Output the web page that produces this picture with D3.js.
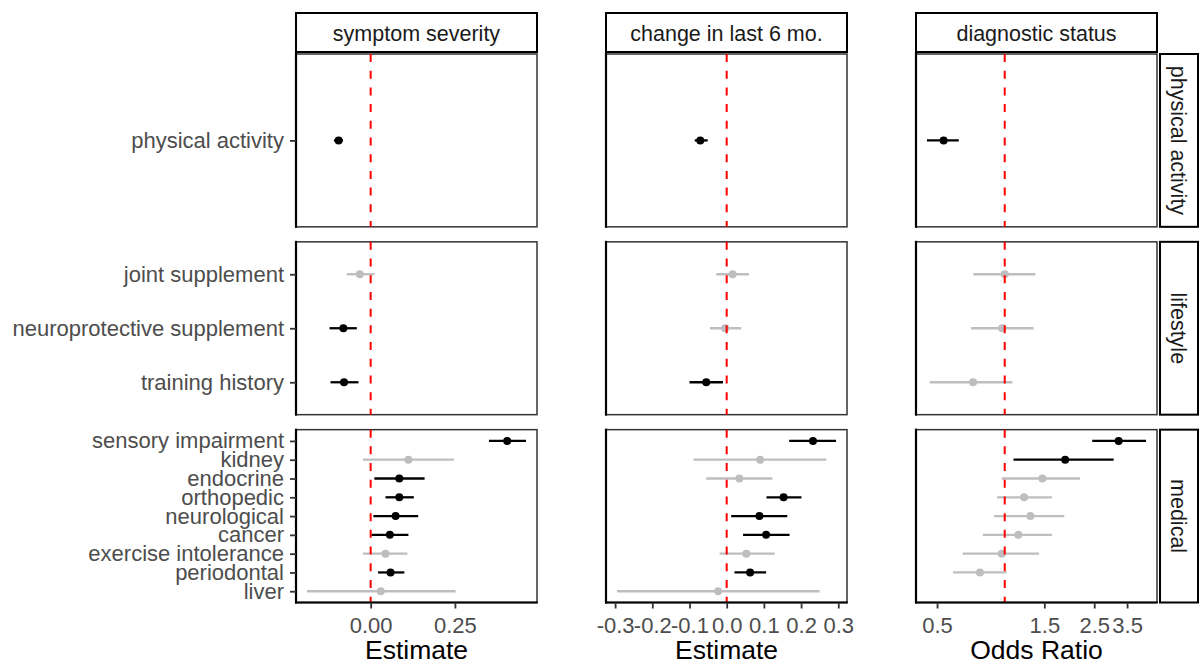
<!DOCTYPE html>
<style>
body {
  margin: 0;
  font-family: 'Liberation Sans', Arial, sans-serif;
  background: #fff;
}
.tick line { stroke: #333; stroke-width: 1.8; }
.tick text { fill: #4d4d4d; font-size: 22px; }
</style>
<svg width="1204" height="666"></svg>
<script src="https://d3js.org/d3.v7.min.js"></script>
<script>
// facets
var outcomes = ["symptom severity", "change in last 6 mo.", "diagnostic status"];
var groups = ["physical activity", "lifestyle", "medical"];
var nullValues = [0, 0, 1];
var axisTitles = ["Estimate", "Estimate", "Odds Ratio"];

// terms in each group, top to bottom
var activityTerms = ["physical activity"];
var lifestyleTerms = ["joint supplement", "neuroprotective supplement", "training history"];
var medicalTerms = ["sensory impairment", "kidney", "endocrine", "orthopedic", "neurological",
                    "cancer", "exercise intolerance", "periodontal", "liver"];
var groupTerms = [activityTerms, lifestyleTerms, medicalTerms];
var allTerms = activityTerms.concat(lifestyleTerms, medicalTerms);

// estimates and 95% intervals, same order as allTerms
var severityEst = [-0.095, -0.032, -0.081, -0.079, 0.405, 0.112, 0.085, 0.085, 0.074, 0.057, 0.044, 0.059, 0.030];
var severityLo  = [-0.109, -0.071, -0.122, -0.119, 0.351, -0.023, 0.011, 0.044, 0.008, 0.002, -0.023, 0.022, -0.189];
var severityHi  = [-0.082, 0.011, -0.041, -0.036, 0.461, 0.247, 0.160, 0.128, 0.141, 0.112, 0.109, 0.100, 0.252];

var changeEst = [-0.071, 0.016, -0.004, -0.055, 0.232, 0.090, 0.034, 0.153, 0.088, 0.106, 0.053, 0.063, -0.023];
var changeLo  = [-0.086, -0.028, -0.045, -0.100, 0.168, -0.089, -0.055, 0.107, 0.012, 0.044, -0.019, 0.021, -0.295];
var changeHi  = [-0.051, 0.060, 0.039, -0.010, 0.294, 0.268, 0.123, 0.201, 0.163, 0.169, 0.129, 0.106, 0.250];

var diagnosticOR = [0.535, 1.00, 0.974, 0.723, 3.21, 1.857, 1.47, 1.22, 1.30, 1.15, 0.97, 0.776, null];
var diagnosticLo = [0.451, 0.726, 0.709, 0.464, 2.45, 1.094, 0.97, 0.925, 0.896, 0.80, 0.65, 0.59, null];
var diagnosticHi = [0.625, 1.369, 1.343, 1.082, 4.25, 3.05, 2.16, 1.62, 1.84, 1.62, 1.42, 1.02, null];

// x tick values / labels
var severityTicks = [0, 0.25];
var severityTickLabels = ["0.00", "0.25"];
var changeTicks = [-0.3, -0.2, -0.1, 0, 0.1, 0.2, 0.3];
var changeTickLabels = ["-0.3", "-0.2", "-0.1", "0.0", "0.1", "0.2", "0.3"];
var diagnosticTicks = [0.5, 1.5, 2.5, 3.5];
var diagnosticTickLabels = ["0.5", "1.5", "2.5", "3.5"];

var estimates = [severityEst, changeEst, diagnosticOR];
var lows = [severityLo, changeLo, diagnosticLo];
var highs = [severityHi, changeHi, diagnosticHi];
var tickValues = [severityTicks, changeTicks, diagnosticTicks];
var tickLabels = [severityTickLabels, changeTickLabels, diagnosticTickLabels];

// layout
var svg = d3.select("svg");
var panelW = 241, colX = [296, 606, 916];
var plotTop = 54, plotBottom = 602.5, rowGap = 15;
var panelH = (plotBottom - plotTop - 2 * rowGap) / 3;
var rowY = [0, 1, 2].map(function(i) { return plotTop + i * (panelH + rowGap); });

// x scales, with ggplot-style 5% expansion
var xScales = outcomes.map(function(o, c) {
  var isLog = c === 2;
  var f = isLog ? Math.log : function(v) { return v; };
  var vals = lows[c].concat(highs[c]).filter(function(v) { return v !== null; }).map(f);
  var lo = d3.min(vals), hi = d3.max(vals), pad = (hi - lo) * 0.05;
  if (isLog) {
    return d3.scaleLog().domain([Math.exp(lo - pad), Math.exp(hi + pad)]).range([0, panelW]);
  }
  return d3.scaleLinear().domain([lo - pad, hi + pad]).range([0, panelW]);
});

outcomes.forEach(function(outcome, c) {
  var x = xScales[c];

  // top strip
  var strip = svg.append("g").attr("transform", "translate(" + colX[c] + ",13)");
  strip.append("rect")
      .attr("width", panelW).attr("height", 39)
      .attr("fill", "#fff").attr("stroke", "#000").attr("stroke-width", 2);
  strip.append("text")
      .attr("x", panelW / 2).attr("y", 20)
      .attr("dy", "0.36em")
      .attr("text-anchor", "middle")
      .attr("font-size", 21.5)
      .attr("fill", "#1a1a1a")
      .text(outcome);

  groups.forEach(function(group, r) {
    var terms = groupTerms[r];
    var y = d3.scalePoint().domain(terms).range([0, panelH]).padding(0.6);
    var g = svg.append("g").attr("transform", "translate(" + colX[c] + "," + rowY[r] + ")");

    g.append("rect")
        .attr("width", panelW).attr("height", panelH)
        .attr("fill", "#fff").attr("stroke", "#333").attr("stroke-width", 1.5);

    var rows = terms.map(function(t) {
      var i = allTerms.indexOf(t);
      return { term: t, est: estimates[c][i], lo: lows[c][i], hi: highs[c][i] };
    }).filter(function(d) { return d.est !== null; });

    var colour = function(d) {
      return (d.lo > nullValues[c] || d.hi < nullValues[c]) ? "#000" : "#bebebe";
    };

    g.selectAll(".bar")
      .data(rows)
      .enter().append("line")
        .attr("x1", function(d) { return x(d.lo); })
        .attr("x2", function(d) { return x(d.hi); })
        .attr("y1", function(d) { return y(d.term); })
        .attr("y2", function(d) { return y(d.term); })
        .attr("stroke", colour)
        .attr("stroke-width", 2.3);

    g.selectAll(".pt")
      .data(rows)
      .enter().append("circle")
        .attr("cx", function(d) { return x(d.est); })
        .attr("cy", function(d) { return y(d.term); })
        .attr("r", 4)
        .attr("fill", colour);

    // reference line
    g.append("line")
        .attr("x1", x(nullValues[c])).attr("x2", x(nullValues[c]))
        .attr("y1", 0).attr("y2", panelH)
        .attr("stroke", "#ff0000")
        .attr("stroke-width", 2)
        .attr("stroke-dasharray", "8,8.7");

    // left axis line on every panel
    g.append("line")
        .attr("x1", 0).attr("x2", 0).attr("y1", -1).attr("y2", panelH + 1)
        .attr("stroke", "#000").attr("stroke-width", 2.2);

    if (c === 0) {
      g.append("g")
          .call(d3.axisLeft(y).tickSize(6).tickPadding(6))
          .call(function(a) { a.select(".domain").remove(); })
          .selectAll("text").attr("font-family", "'Liberation Sans', Arial, sans-serif");
    }

    if (r === 2) {
      g.append("line")
          .attr("x1", -1).attr("x2", panelW + 0.75).attr("y1", panelH).attr("y2", panelH)
          .attr("stroke", "#000").attr("stroke-width", 2.2);
      g.append("g")
          .attr("transform", "translate(0," + panelH + ")")
          .call(d3.axisBottom(x).tickValues(tickValues[c]).tickSize(6).tickPadding(9)
            .tickFormat(function(d, i) { return tickLabels[c][i]; }))
          .call(function(a) { a.select(".domain").remove(); })
          .selectAll("text").attr("font-family", "'Liberation Sans', Arial, sans-serif");
    }

    // right strip
    if (c === 2) {
      var rs = svg.append("g").attr("transform", "translate(1160," + rowY[r] + ")");
      rs.append("rect")
          .attr("width", 38).attr("height", panelH)
          .attr("fill", "#fff").attr("stroke", "#000").attr("stroke-width", 2);
      rs.append("text")
          .attr("transform", "translate(19," + (panelH / 2) + ") rotate(90)")
          .attr("dy", "0.36em")
          .attr("text-anchor", "middle")
          .attr("font-size", 21.5)
          .attr("fill", "#1a1a1a")
          .text(group);
    }
  });

  // axis title
  svg.append("text")
      .attr("x", colX[c] + panelW / 2)
      .attr("y", 659)
      .attr("text-anchor", "middle")
      .attr("font-size", 26.5)
      .attr("fill", "#000")
      .text(axisTitles[c]);
});
</script>
